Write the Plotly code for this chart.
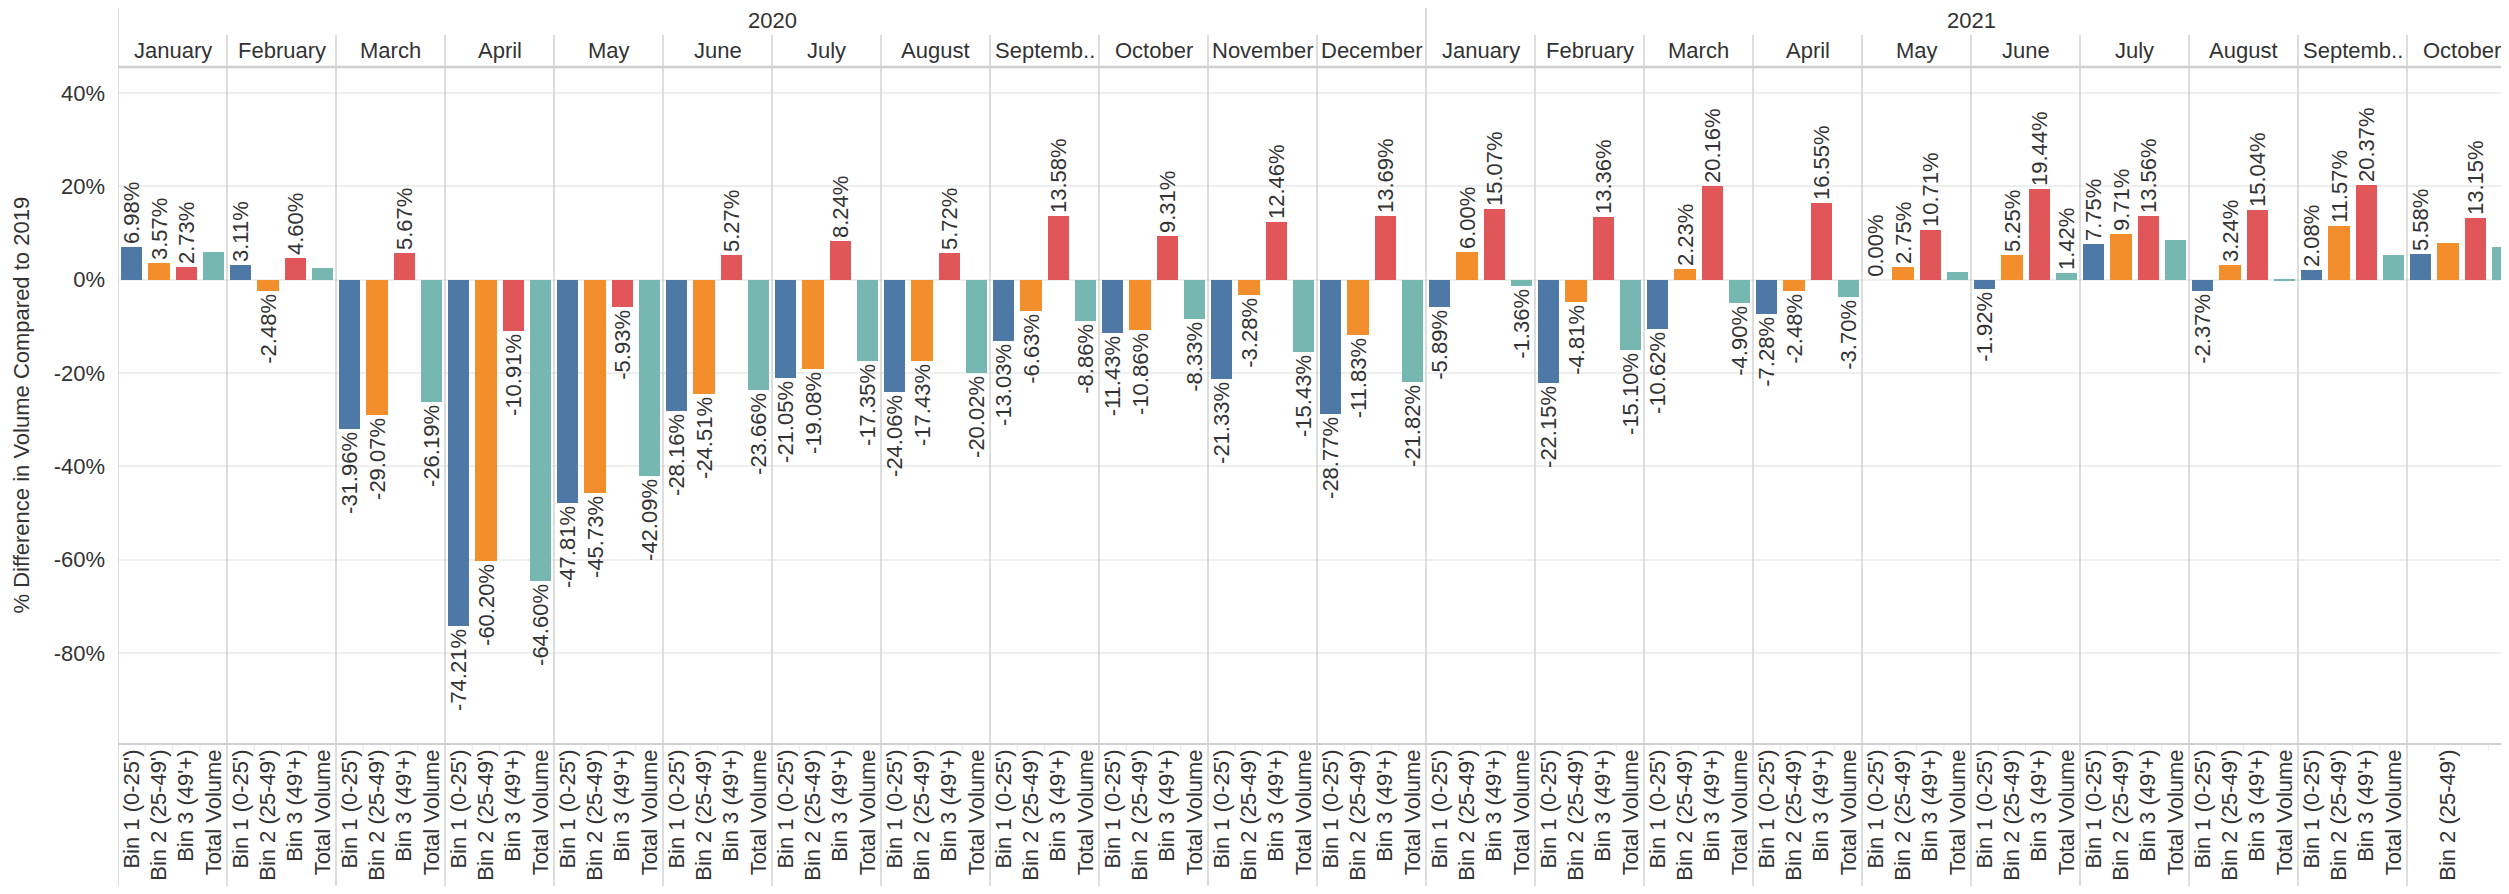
import plotly.graph_objects as go

# ---------------- data ----------------
years = ["2020"] * 12 + ["2021"] * 10
months = ["January", "February", "March", "April", "May", "June", "July",
          "August", "Septemb..", "October", "November", "December",
          "January", "February", "March", "April", "May", "June", "July",
          "August", "Septemb..", "October"]
bin_names = ["Bin 1 (0-25')", "Bin 2 (25-49')", "Bin 3 (49'+)", "Total Volume"]

bin1 = [6.98, 3.11, -31.96, -74.21, -47.81, -28.16, -21.05, -24.06, -13.03, -11.43, -21.33, -28.77,
        -5.89, -22.15, -10.62, -7.28, 0.00, -1.92, 7.75, -2.37, 2.08, 5.58]
bin2 = [3.57, -2.48, -29.07, -60.20, -45.73, -24.51, -19.08, -17.43, -6.63, -10.86, -3.28, -11.83,
        6.00, -4.81, 2.23, -2.48, 2.75, 5.25, 9.71, 3.24, 11.57, 7.90]
bin3 = [2.73, 4.60, 5.67, -10.91, -5.93, 5.27, 8.24, 5.72, 13.58, 9.31, 12.46, 13.69,
        15.07, 13.36, 20.16, 16.55, 10.71, 19.44, 13.56, 15.04, 20.37, 13.15]
total = [5.90, 2.60, -26.19, -64.60, -42.09, -23.66, -17.35, -20.02, -8.86, -8.33, -15.43, -21.82,
         -1.36, -15.10, -4.90, -3.70, 1.70, 1.42, 8.60, -0.20, 5.30, 7.00]

# labels that the original view leaves out (series index -> month indices)
hidden_labels = {
    0: [],
    1: [21],
    2: [],
    3: [0, 1, 16, 18, 19, 20, 21],
}
# axis labels hidden in the last (partially visible) panel
hidden_ticks_last = [0, 2]

y_ticks = [40, 20, 0, -20, -40, -60, -80]

colors = ["#4e79a7", "#f28e2b", "#e15759", "#76b7b2"]
series = [bin1, bin2, bin3, total]

FONT = "Liberation Sans, Arial, sans-serif"
TXT = "#333333"
LINE = "#d2d2d2"

# page geometry (the page body adds an 8px offset)
OFF = 8
PAGE_W, PAGE_H = 2509, 894
W, H = PAGE_W - OFF, PAGE_H - 2 * OFF
PLOT_L, PLOT_T, PLOT_B = 118, 67, 744          # in page pixels
ML = PLOT_L - OFF
MT = PLOT_T - OFF
MB = H - (PLOT_B - OFF)
PH = PLOT_B - PLOT_T
PW = W - ML
SLOT = 109 / 4


def py(page_y):
    return (PLOT_B - page_y) / PH


n = len(months)
fig = go.Figure()
for b, vals in enumerate(series):
    xs = [m * 4 + b + 0.5 for m in range(n)]
    texts = ["" if m in hidden_labels[b] else f"{v:.2f}%" for m, v in enumerate(vals)]
    fig.add_trace(go.Bar(
        x=xs, y=vals, width=0.78, name=bin_names[b],
        marker=dict(color=colors[b], line=dict(width=0)),
        text=texts, textposition="outside", textangle=-90,
        textfont=dict(family=FONT, size=22, color=TXT),
        constraintext="none", cliponaxis=False, showlegend=False,
        hoverinfo="skip",
    ))

tickvals, ticktext = [], []
for m in range(n):
    for b in range(4):
        tickvals.append(m * 4 + b + 0.5)
        if m == n - 1 and b in hidden_ticks_last:
            ticktext.append("")
        else:
            ticktext.append(bin_names[b])

xmax = PW / SLOT

shapes = []
# zero line (dotted)
shapes.append(dict(type="line", xref="paper", yref="y", x0=0, x1=1, y0=0, y1=0,
                   line=dict(color="#c4c4c4", width=1.5, dash="dot"), layer="below"))
# panel separators
for k in range(n):
    xv = k * 4
    if xv > xmax:
        continue
    new_year = (k == 0) or (years[k] != years[k - 1])
    top = 5 if new_year else 35
    shapes.append(dict(type="line", xref="x", yref="paper", x0=xv, x1=xv,
                       y0=py(889), y1=py(top), line=dict(color=LINE, width=1.5), layer="above"))
    # faint small separators between the axis labels
    for j in (1, 2, 3):
        shapes.append(dict(type="line", xref="x", yref="paper", x0=xv + j, x1=xv + j,
                           y0=py(751), y1=py(744), line=dict(color="#ececec", width=1.2)))
# header bottom line and plot bottom line
shapes.append(dict(type="line", xref="paper", yref="paper", x0=0, x1=1, y0=1, y1=1,
                   line=dict(color="#d0d0d0", width=2.5)))
shapes.append(dict(type="line", xref="paper", yref="paper", x0=0, x1=1, y0=0, y1=0,
                   line=dict(color="#d0d0d0", width=2)))

annotations = []
for m in range(n):
    annotations.append(dict(x=m * 4 + 2, y=py(51), xref="x", yref="paper", text=months[m],
                            showarrow=False, font=dict(family=FONT, size=22, color=TXT),
                            xanchor="center", yanchor="middle"))
# year headers
year_list = []
for y in years:
    if y not in year_list:
        year_list.append(y)
for y in year_list:
    idx = [i for i, v in enumerate(years) if v == y]
    cx = (idx[0] * 4 + (idx[-1] + 1) * 4) / 2
    annotations.append(dict(x=cx, y=py(20), xref="x", yref="paper", text=y, showarrow=False,
                            font=dict(family=FONT, size=22, color=TXT),
                            xanchor="center", yanchor="middle"))
# y axis title
annotations.append(dict(x=(21 - PLOT_L) / PW, y=0.5, xref="paper", yref="paper",
                        text="% Difference in Volume Compared to 2019", textangle=-90,
                        showarrow=False, font=dict(family=FONT, size=22, color=TXT),
                        xanchor="center", yanchor="middle"))

fig.update_layout(
    width=W, height=H,
    margin=dict(l=ML, r=0, t=MT, b=MB, autoexpand=False),
    plot_bgcolor="white", paper_bgcolor="white",
    barmode="overlay", bargap=0,
    font=dict(family=FONT, size=22, color=TXT),
    shapes=shapes, annotations=annotations,
    hovermode=False,
)
fig.update_xaxes(
    range=[0, xmax], tickvals=tickvals, ticktext=ticktext, tickangle=-90,
    showgrid=False, zeroline=False, showline=False, ticks="",
    tickfont=dict(family=FONT, size=22, color=TXT), automargin=False,
)
fig.update_yaxes(
    range=[-99.5, 45.6], tickvals=y_ticks, ticktext=[f"{v}%" for v in y_ticks],
    showgrid=True, gridcolor="#eeeeee", gridwidth=1.5, zeroline=False, showline=False,
    ticks="", ticklabelstandoff=12, tickfont=dict(family=FONT, size=22, color=TXT),
    automargin=False,
)

fig.write_html("out.html")
